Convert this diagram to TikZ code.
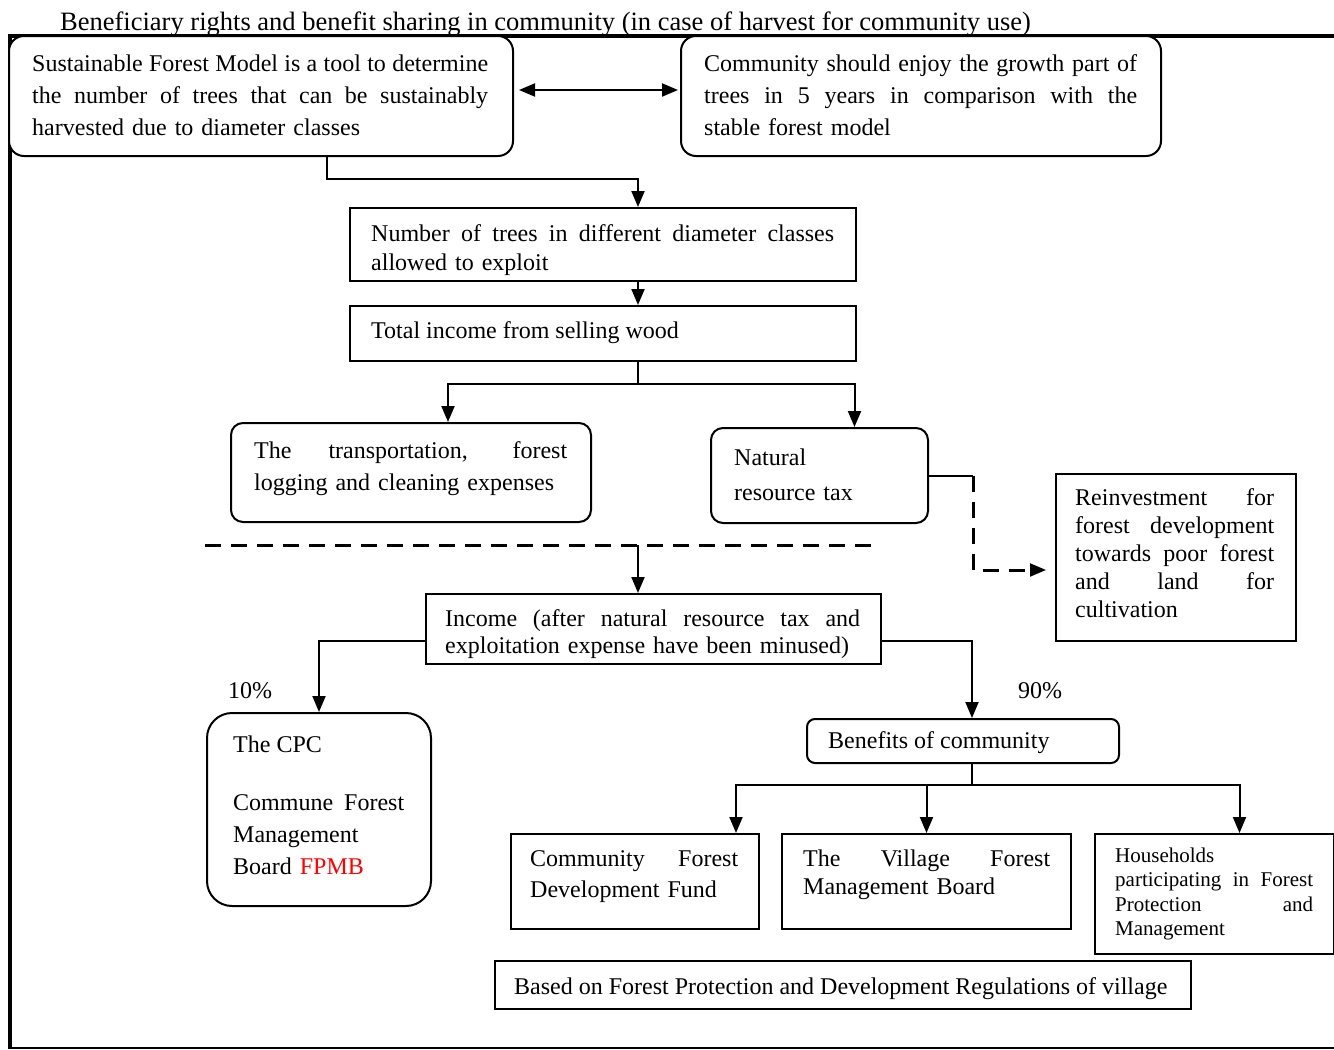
\documentclass[tikz,border=0pt]{standalone}
\usepackage{fontspec}
\setmainfont{Liberation Serif}
\usetikzlibrary{arrows.meta}
\newcommand\JL[1]{\makebox[\linewidth][s]{\spaceskip=0.25em plus 1fil minus 0.08em\relax #1}}
\begin{document}
\begin{tikzpicture}[x=1pt,y=-1pt,
  box/.style={draw, line width=2pt, fill=white, inner sep=0pt, anchor=north west},
  rbox/.style={box, rounded corners=#1}, rbox/.default=15pt,
  tx/.style={inner sep=0pt, anchor=base west, align=left, font=\fontsize{24}{32}\selectfont},
  ln/.style={line width=2pt},
  arr/.style={line width=2pt, -{Triangle[length=16pt,width=13pt]}},
  dbl/.style={line width=2pt, {Triangle[length=16pt,width=13pt]}-{Triangle[length=16pt,width=13pt]}},
  dsh/.style={line width=3pt, dash pattern=on 16pt off 10pt},
]
\useasboundingbox (0,0) rectangle (1334,1050);
% frame
\draw[line width=4pt] (10,36) -- (10,1048);
\draw[line width=4.5pt] (8,36) -- (1334,36);
\draw[line width=2pt] (8,1048) -- (1334,1048);

\node[tx, font=\fontsize{26.5}{32}\selectfont] (title) at (60,30) {Beneficiary rights and benefit sharing in community (in case of harvest for community use)};

% boxes
\node[rbox, minimum width=504pt, minimum height=120pt] (b1) at (8,35) {};
\node[rbox, minimum width=480pt, minimum height=120pt] (b2) at (680,35) {};
\node[box, minimum width=506pt, minimum height=73pt] (b3) at (349,207) {};
\node[box, minimum width=506pt, minimum height=55pt] (b4) at (349,305) {};
\node[rbox=12pt, minimum width=360pt, minimum height=99pt] (b5) at (230,422) {};
\node[rbox=12pt, minimum width=217pt, minimum height=95pt] (b6) at (710,427) {};
\node[box, minimum width=240pt, minimum height=167pt] (rb) at (1055,473) {};
\node[box, minimum width=455pt, minimum height=70pt] (inc) at (425,593) {};
\node[rbox=25pt, minimum width=224pt, minimum height=193pt] (cpc) at (206,712) {};
\node[rbox=8pt, minimum width=312pt, minimum height=44pt] (ben) at (806,718) {};
\node[box, minimum width=248pt, minimum height=95pt] (cf) at (510,833) {};
\node[box, minimum width=289pt, minimum height=95pt] (vf) at (781,833) {};
\node[box, minimum width=239pt, minimum height=120pt] (hh) at (1094,833) {};
\node[box, minimum width=696pt, minimum height=48pt] (bot) at (494,960) {};

% texts
\node[tx, text width=456pt] (t1) at (32,71) {\JL{Sustainable Forest Model is a tool to determine}\\\JL{the number of trees that can be sustainably}\\harvested due to diameter classes};
\node[tx, text width=433pt] (t2) at (704,71) {\JL{Community should enjoy the growth part of}\\\JL{trees in 5 years in comparison with the}\\stable forest model};
\node[tx, text width=463pt, font=\fontsize{24}{29}\selectfont] (t3) at (371,241) {\JL{Number of trees in different diameter classes}\\allowed to exploit};
\node[tx] (t4) at (371,338) {Total income from selling wood};
\node[tx, text width=313pt, font=\fontsize{24}{32}\selectfont] (t5) at (254,458) {\JL{The transportation, forest}\\logging and cleaning expenses};
\node[tx, text width=180pt, font=\fontsize{24}{35}\selectfont] (t6) at (734,465) {Natural\\resource tax};
\node[tx, text width=199pt, font=\fontsize{24}{28}\selectfont] (t7) at (1075,505) {\JL{Reinvestment for}\\\JL{forest development}\\\JL{towards poor forest}\\\JL{and land for}\\cultivation};
\node[tx, text width=415pt, font=\fontsize{24}{27}\selectfont] (t8) at (445,626) {\JL{Income (after natural resource tax and}\\exploitation expense have been minused)};
\node[tx] (p10) at (228,698) {10\%};
\node[tx] (p90) at (1018,698) {90\%};
\node[tx] (t9) at (233,752) {The CPC};
\node[tx, text width=171pt] (t10) at (233,810) {\JL{Commune Forest}\\Management\\Board \textcolor{red}{FPMB}};
\node[tx] (t11) at (828,748) {Benefits of community};
\node[tx, text width=208pt, font=\fontsize{24}{31}\selectfont] (t12) at (530,866) {\JL{Community Forest}\\Development Fund};
\node[tx, text width=247pt, font=\fontsize{24}{28}\selectfont] (t13) at (803,866) {\JL{The Village Forest}\\Management Board};
\node[tx, text width=198pt, font=\fontsize{21}{24.5}\selectfont] (t14) at (1115,862) {Households\\\JL{participating in Forest}\\\JL{Protection and}\\Management};
\node[tx] (t15) at (514,994) {Based on Forest Protection and Development Regulations of village};

% helper coordinates
\coordinate (sp) at (638,0);
\coordinate (j1) at (638,384);
\coordinate (x973) at (973,0);
\coordinate (r570) at (973,570);
\coordinate (dl1) at (205,545);
\coordinate (dl2) at (872,545);
\coordinate (dlm) at (638,545);
\coordinate (x972) at (972,0);
\coordinate (j2) at (972,785);

% connectors
\draw[dbl] ([xshift=5pt,yshift=6pt]b1.east) -- ([xshift=-2pt,yshift=6pt]b2.west);
\draw[arr] ([xshift=66pt]b1.south) -- ++(0,22) -| (b3.north -| sp);
\draw[arr] (b3.south -| sp) -- (b4.north -| sp);
\draw[ln] (b4.south -| sp) -- (j1);
\draw[arr] (j1) -| ([xshift=37pt]b5.north);
\draw[arr] (j1) -| ([xshift=35pt]b6.north);
\draw[ln] (b6.east) -- (b6.east -| x973);
\draw[dsh] (b6.east -| x973) -- (r570) -- ([xshift=-27pt]rb.west |- r570);
\draw[arr] ([xshift=-25pt]rb.west |- r570) -- ([xshift=-9pt]rb.west |- r570);
\draw[dsh] (dl1) -- (dl2);
\draw[arr] (dlm) -- (inc.north -| dlm);
\draw[arr] ([yshift=-12pt]inc.west) -| (cpc.north);
\draw[arr] ([yshift=-12pt]inc.east) -| (ben.north -| x972);
\draw[ln] (ben.south -| j2) -- (j2);
\draw[arr] (j2) -| ([xshift=101pt]cf.north);
\draw[arr] (j2) -| (vf.north);
\draw[arr] (j2) -| ([xshift=25pt]hh.north);
\end{tikzpicture}
\end{document}
